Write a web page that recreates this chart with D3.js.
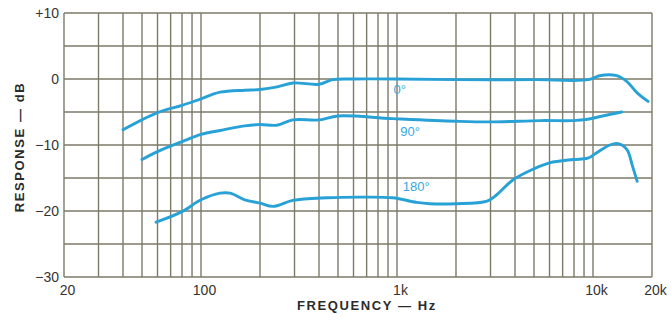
<!DOCTYPE html>
<html>
<head>
<meta charset="utf-8">
<script src="https://cdn.jsdelivr.net/npm/d3@7"></script>
<style>
body { margin:0; background:#fff; }
svg { display:block; }
.grid line { stroke:#7c7a68; stroke-width:1.4; }
.tick text { font-family:"Liberation Sans", Arial, sans-serif; font-size:14px; fill:#333; }
.title { font-family:"Liberation Sans", Arial, sans-serif; font-size:13px; font-weight:bold; fill:#2b2b2b; letter-spacing:1.6px; }
.curve { fill:none; stroke:#28a2d6; stroke-width:2.9; stroke-linecap:round; }
.clabel { font-family:"Liberation Sans", Arial, sans-serif; font-size:13px; fill:#35a9de; }
</style>
</head>
<body>
<svg></svg>
<script>
// 0 degree response
var freq0 = [40, 60, 80, 100, 125, 167, 200, 245, 295, 400, 470, 600, 1000, 2000, 5000, 9500, 10800, 13200, 14900, 16800, 19100];
var db0   = [-7.7, -5.1, -4.0, -3.0, -2.0, -1.7, -1.6, -1.2, -0.6, -0.8, -0.1, 0, 0, -0.1, -0.1, -0.1, 0.5, 0.5, -0.4, -2.1, -3.4];

// 90 degree response
var freq90 = [50, 60, 80, 100, 125, 167, 200, 244, 294, 400, 500, 950, 2000, 3000, 5400, 7900, 9400, 11200, 14000];
var db90   = [-12.2, -11.0, -9.5, -8.4, -7.8, -7.1, -6.9, -7.0, -6.2, -6.2, -5.6, -6.0, -6.4, -6.5, -6.3, -6.3, -6.1, -5.6, -5.0];

// 180 degree response
var freq180 = [59, 80, 100, 125, 141, 167, 200, 233, 294, 440, 644, 950, 1260, 1470, 2000, 2880, 3240, 3900, 5000, 6000, 7900, 9400, 10400, 12200, 13400, 14900, 15900, 16800];
var db180   = [-21.7, -20.1, -18.3, -17.3, -17.3, -18.3, -18.8, -19.3, -18.4, -18.0, -17.9, -18.0, -18.7, -18.9, -18.9, -18.5, -17.5, -15.3, -13.6, -12.7, -12.2, -12.0, -11.2, -10.0, -9.8, -10.7, -13.2, -15.5];

var yTicks = [10, 0, -10, -20, -30];
var yTickText = ["+10", "0", "\u221210", "\u221220", "\u221230"];
var xTicks = [20, 100, 1000, 10000, 20000];
var xTickText = ["20", "100", "1k", "10k", "20k"];

var curveLabels = ["0\u00b0", "90\u00b0", "180\u00b0"];
var labelFreq = [960, 1040, 1070];
var labelDb = [-2.2, -8.7, -17.0];

var W = 671, H = 325;
var margins = {left:64, right:19, top:13, bottom:48};

var svg = d3.select("svg").attr("width", W).attr("height", H);

var xScale = d3.scaleLog()
    .domain([20, 20000])
    .range([margins.left, W - margins.right]);
var yScale = d3.scaleLinear()
    .domain([-30, 10])
    .range([H - margins.bottom, margins.top]);

// grid lines: 20..100 by 10, then by decades
var vLines = [];
[10, 100, 1000].forEach(function(dec) {
    for (var k = 1; k <= 9; k++) {
        var f = k * dec;
        if (f >= 20) vLines.push(f);
    }
});
vLines.push(10000, 20000);
var hLines = d3.range(-30, 11, 5);

var grid = svg.append("g").attr("class", "grid");
grid.selectAll(".v").data(vLines).enter().append("line")
    .attr("class", "v")
    .attr("x1", function(d) { return xScale(d); })
    .attr("x2", function(d) { return xScale(d); })
    .attr("y1", yScale(10)).attr("y2", yScale(-30));
grid.selectAll(".h").data(hLines).enter().append("line")
    .attr("class", "h")
    .attr("x1", xScale(20)).attr("x2", xScale(20000))
    .attr("y1", function(d) { return yScale(d); })
    .attr("y2", function(d) { return yScale(d); });

// axes (tick text only)
var yAxis = d3.axisLeft(yScale).tickValues(yTicks).tickSize(0).tickPadding(5)
    .tickFormat(function(d, i) { return yTickText[i]; });
svg.append("g")
    .attr("transform", "translate(" + margins.left + ",0)")
    .call(yAxis)
    .call(function(g) { g.select(".domain").remove(); });

var xAxis = d3.axisBottom(xScale).tickValues(xTicks).tickSize(0).tickPadding(8)
    .tickFormat(function(d, i) { return xTickText[i]; });
svg.append("g")
    .attr("transform", "translate(3," + (H - margins.bottom) + ")")
    .call(xAxis)
    .call(function(g) { g.select(".domain").remove(); });

// curves
var line = d3.line()
    .x(function(d) { return xScale(d.f); })
    .y(function(d) { return yScale(d.db); })
    .curve(d3.curveCatmullRom.alpha(0.5));

var series = [
    d3.zip(freq0, db0),
    d3.zip(freq90, db90),
    d3.zip(freq180, db180)
].map(function(s) { return s.map(function(p) { return {f:p[0], db:p[1]}; }); });

svg.append("g").selectAll("path").data(series).enter().append("path")
    .attr("class", "curve")
    .attr("d", line);

svg.append("g").selectAll("text").data(curveLabels).enter().append("text")
    .attr("class", "clabel")
    .attr("x", function(d, i) { return xScale(labelFreq[i]); })
    .attr("y", function(d, i) { return yScale(labelDb[i]); })
    .text(function(d) { return d; });

// titles
svg.append("text")
    .attr("class", "title")
    .attr("text-anchor", "middle")
    .attr("x", 367).attr("y", 310)
    .text("FREQUENCY \u2014 Hz");

svg.append("g")
    .attr("transform", "translate(24," + (margins.top + (H - margins.bottom - margins.top) / 2 + 2) + ")")
    .append("text")
    .attr("class", "title")
    .attr("text-anchor", "middle")
    .attr("transform", "rotate(-90)")
    .text("RESPONSE \u2014 dB");
</script>
</body>
</html>
